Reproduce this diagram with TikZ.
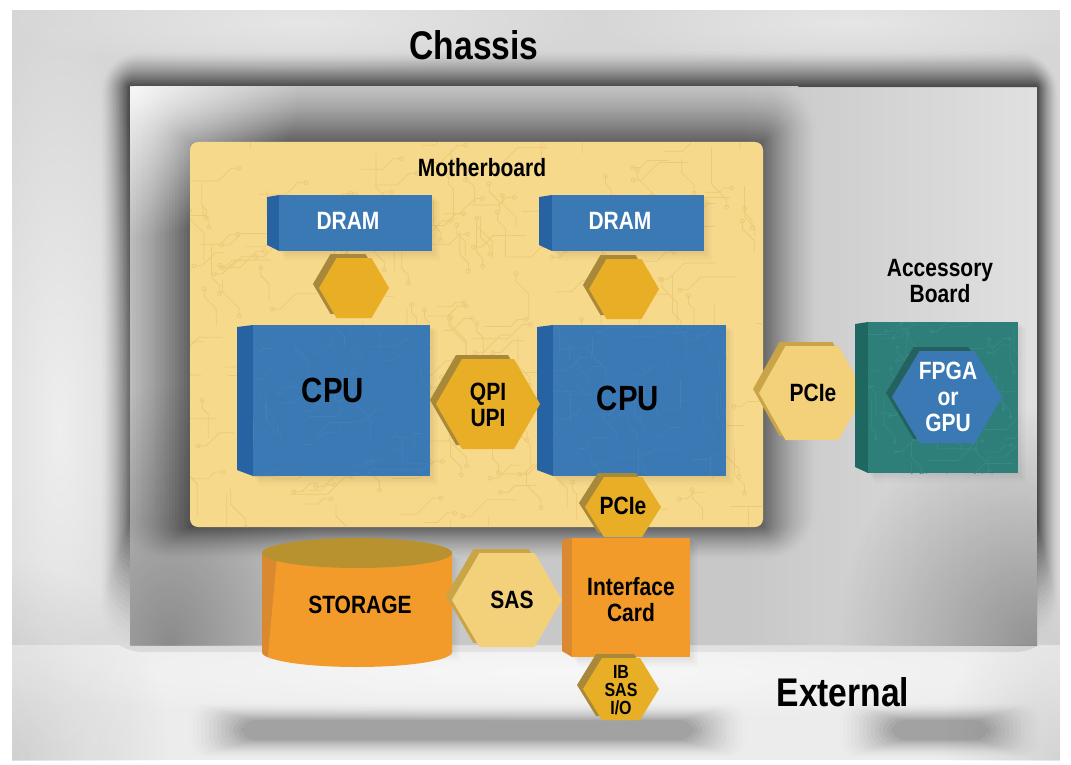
\documentclass[tikz,border=0pt]{standalone}
\usepackage{fontspec}
\setmainfont{Liberation Sans}[FakeStretch=0.84]
\usetikzlibrary{calc,fadings}
\tikzfading[name=radfade, inner color=transparent!0, outer color=transparent!100]
\tikzfading[name=fromleft, left color=transparent!100, right color=transparent!0]
\definecolor{frameGray}{HTML}{D6D6D6}
\definecolor{frameLight}{HTML}{ECECEC}
\definecolor{haloDark}{HTML}{424242}
\definecolor{chassisBase}{HTML}{C8C8C8}
\definecolor{mbHaloDark}{HTML}{5E5E5E}
\definecolor{barDark}{HTML}{A2A2A2}
\definecolor{mbYellow}{HTML}{F6D98B}
\definecolor{mbTrace}{HTML}{ECCA78}
\definecolor{blueFace}{HTML}{3B79B4}
\definecolor{blueSide}{HTML}{2763A3}
\definecolor{blueTrace}{HTML}{4480B8}
\definecolor{gold}{HTML}{E8AE25}
\definecolor{goldShade}{HTML}{A8893A}
\definecolor{pale}{HTML}{F3D07A}
\definecolor{paleShade}{HTML}{C9A548}
\definecolor{tealFace}{HTML}{2E7F7A}
\definecolor{tealSide}{HTML}{1F6862}
\definecolor{tealTrace}{HTML}{388983}
\definecolor{fpgaShade}{HTML}{23625E}
\definecolor{orangeFace}{HTML}{F29A2A}
\definecolor{orangeSide}{HTML}{D98A30}
\definecolor{storTop}{HTML}{B8922F}
\newcommand{\hexfill}[6]{% x, y, half width, half height, face colour, shadow colour
  \fill[#6] (#1-#3-6,#2-4) -- (#1-#3/2-6,#2-#4-4) -- (#1+#3/2-6,#2-#4-4) -- (#1+#3-6,#2-4) -- (#1+#3/2-6,#2+#4-4) -- (#1-#3/2-6,#2+#4-4) -- cycle;
  \fill[#5] (#1-#3,#2) -- (#1-#3/2,#2-#4) -- (#1+#3/2,#2-#4) -- (#1+#3,#2) -- (#1+#3/2,#2+#4) -- (#1-#3/2,#2+#4) -- cycle;
}
\newcommand{\boxfill}[7]{% side left, face left, right, top, bottom, face colour, side colour
  \foreach \s in {1,...,6}{\fill[black,opacity=0.012] (#2+\s,#4+\s) rectangle (#3+\s*1.3,#5+\s*1.6);}
  \fill[#7] (#1,#4+2) -- (#2,#4) -- (#2,#5) -- (#1,#5-6) -- cycle;
  \fill[#6] (#2,#4) rectangle (#3,#5);
}
\tikzset{
  lbl/.style={font=\bfseries\fontsize{25}{26}\selectfont, align=center, text=black, inner sep=0pt},
  wlbl/.style={lbl, text=white},
  big/.style={font=\bfseries\fontsize{40}{42}\selectfont, inner sep=0pt},
  cpulbl/.style={font=\bfseries\fontsize{35}{36}\selectfont, inner sep=0pt},
  small/.style={font=\bfseries\fontsize{19}{18}\selectfont, align=center, inner sep=0pt},
  trace/.style={line width=0.75pt}
}
\begin{document}
\begin{tikzpicture}[x=1pt,y=-1pt]
\useasboundingbox (0,0) rectangle (1071,765);
\fill[white] (0,0) rectangle (1071,765);
% outer frame
\begin{scope}
  \clip (12,10) rectangle (1060,760);
  \fill[frameGray] (12,10) rectangle (1060,760);
  \fill[frameLight] (12,645) rectangle (1060,760);
  % soft shadows at the bottom
  \foreach \i in {0,...,14}{
    \pgfmathtruncatemacro\t{100*(\i/14)^1.5}
    \fill[barDark!\t!frameLight,rounded corners=14] (185+\i*4,702+\i*1.3) rectangle (750-\i*4,758-\i*1.3);
    \fill[barDark!\t!frameLight,rounded corners=14] (835+\i*4,702+\i*1.3) rectangle (1045-\i*4,758-\i*1.3);
  }
  % chassis halo
  \foreach \i in {0,...,22}{
    \pgfmathtruncatemacro\t{100*(\i/22)^1.4}
    \pgfmathsetmacro\j{22-\i}
    \fill[haloDark!\t!frameGray,rounded corners=\j*2] (130-\j*1.4,87-\j*1.7) rectangle (1037+\j*1.0,520+\j*6);
  }
  \fill[white,opacity=0.6,path fading=radfade] (60,430) ellipse[x radius=100, y radius=420];
  \fill[white,opacity=0.6,path fading=radfade] (560,672) ellipse[x radius=650, y radius=50];
  \fill[white,opacity=0.4,path fading=radfade] (300,22) ellipse[x radius=300, y radius=50];
  \fill[white,opacity=0.4,path fading=radfade] (850,22) ellipse[x radius=260, y radius=45];
  \fill[black,opacity=0.12,path fading=radfade] (12,760) ellipse[x radius=160, y radius=200];
  \fill[black,opacity=0.10,path fading=radfade] (1060,760) ellipse[x radius=120, y radius=160];
\end{scope}
% chassis
\begin{scope}
  \clip (130,87) rectangle (1037,645);
  \fill[chassisBase] (130,87) rectangle (1037,645);
  % motherboard halo
  \foreach \i in {0,...,26}{
    \pgfmathtruncatemacro\t{100*(\i/26)^1.4}
    \pgfmathsetmacro\j{26-\i}
    \fill[mbHaloDark!\t!chassisBase,rounded corners=\j*2] (190-\j*3,142-\j*2.5) rectangle (763+\j*2.2,527+\j*1.3);
  }
  \fill[white,opacity=0.85,path fading=radfade] (130,87) ellipse[x radius=170, y radius=150];
  \fill[white,opacity=0.45,path fading=fromleft] (740,87) rectangle (1037,645);
  \fill[black,opacity=0.35,path fading=radfade] (1037,645) ellipse[x radius=200, y radius=240];
  \fill[black,opacity=0.30,path fading=radfade] (170,645) ellipse[x radius=160, y radius=260];
\end{scope}
% motherboard
\fill[mbYellow,rounded corners=8] (190,142) rectangle (763,527);
\begin{scope}
  \clip[rounded corners=8] (190,142) rectangle (763,527);
  \pgfmathsetseed{11}
  \foreach \k in {1,...,220}{
    \pgfmathsetmacro\px{190+rnd*573}
    \pgfmathsetmacro\py{142+rnd*385}
    \pgfmathsetmacro\la{8+rnd*30}
    \pgfmathsetmacro\lb{4+rnd*14}
    \pgfmathrandominteger\dd{0}{3}
    \draw[trace,mbTrace,shift={(\px,\py)},rotate=\dd*90] (0,0) -- (0,\la) -- ++(\lb,\lb) -- ++(0,8) circle[radius=2];
  }
\end{scope}
\node[lbl] (mb) at (482,168) {Motherboard};
% DRAM modules
\boxfill{267}{279}{432}{195}{251}{blueFace}{blueSide}
\node[wlbl] (dram1) at (348,221) {DRAM};
\boxfill{539}{552}{704}{195}{251}{blueFace}{blueSide}
\node[wlbl] (dram2) at (620,221) {DRAM};
% memory links
\hexfill{354}{288}{35}{30}{gold}{goldShade}
\coordinate (mem1) at (354,288);
\hexfill{624}{289}{35}{30}{gold}{goldShade}
\coordinate (mem2) at (624,289);
% CPUs
\boxfill{237}{253}{430}{325}{476}{blueFace}{blueSide}
\boxfill{537}{553}{726}{325}{476}{blueFace}{blueSide}
\begin{scope}
  \clip (253,325) rectangle (430,476) (553,325) rectangle (726,476);
  \pgfmathsetseed{5}
  \foreach \k in {1,...,140}{
    \pgfmathsetmacro\px{253+rnd*473}
    \pgfmathsetmacro\py{325+rnd*151}
    \pgfmathsetmacro\la{6+rnd*25}
    \pgfmathsetmacro\lb{3+rnd*12}
    \pgfmathrandominteger\dd{0}{3}
    \draw[line width=0.6pt,blueTrace,shift={(\px,\py)},rotate=\dd*90] (0,0) -- (0,\la) -- ++(\lb,\lb) -- ++(0,6);
  }
\end{scope}
\node[cpulbl] (cpu1) at (333,390) {CPU};
\node[cpulbl] (cpu2) at (628,398) {CPU};
% QPI/UPI
\hexfill{488}{404}{52}{45}{gold}{goldShade}
\node[lbl] (qpi) at (488,405) {QPI\\UPI};
% PCIe to accessory board
\hexfill{812}{393}{53}{47}{pale}{paleShade}
\node[lbl] (pcie1) at (813,393) {PCIe};
% accessory board
\node[lbl] (acclbl) at (940,281) {Accessory\\Board};
\boxfill{855}{868}{1018}{322}{473}{tealFace}{tealSide}
\begin{scope}
  \clip (868,322) rectangle (1018,473);
  \pgfmathsetseed{3}
  \foreach \k in {1,...,60}{
    \pgfmathsetmacro\px{868+rnd*150}
    \pgfmathsetmacro\py{322+rnd*151}
    \pgfmathsetmacro\la{6+rnd*25}
    \pgfmathsetmacro\lb{3+rnd*12}
    \pgfmathrandominteger\dd{0}{3}
    \draw[line width=0.7pt,tealTrace,shift={(\px,\py)},rotate=\dd*90] (0,0) -- (0,\la) -- ++(\lb,\lb) -- ++(0,6) circle[radius=1.5];
  }
\end{scope}
\hexfill{947}{397}{55}{46}{blueFace}{fpgaShade}
\node[wlbl] (fpga) at (948,397) {FPGA\\or\\GPU};
% PCIe to interface card
\hexfill{623}{507}{38}{30}{gold}{goldShade}
\node[lbl] (pcie2) at (623,506) {PCIe};
% storage
\begin{scope}
  \foreach \s in {1,...,6}{\fill[black,opacity=0.012] (262+\s,553+\s) rectangle (452+\s*1.3,652+\s*1.3);}
  \fill[orangeFace] (262,553) -- (262,652) arc[start angle=180, end angle=0, x radius=95, y radius=15] -- (452,553) -- cycle;
  \fill[orangeSide] (262,553) -- (262,652) arc[start angle=180, end angle=160, x radius=95, y radius=15] -- (277,556) -- cycle;
  \fill[storTop] (357,553) ellipse[x radius=95, y radius=15];
\end{scope}
\node[lbl] (storage) at (360,605) {STORAGE};
% SAS
\hexfill{507}{600}{55}{47}{pale}{paleShade}
\node[lbl] (sas) at (512,600) {SAS};
% interface card
\boxfill{562}{572}{690}{538}{657}{orangeFace}{orangeSide}
\node[lbl] (card) at (631,600) {Interface\\Card};
% external I/O
\hexfill{621}{689}{38}{31}{gold}{goldShade}
\node[small] (io) at (621,690) {IB\\SAS\\I/O};
% titles
\node[big] (chassis) at (474,45) {Chassis};
\node[big] (external) at (843,692) {External};
\end{tikzpicture}
\end{document}
